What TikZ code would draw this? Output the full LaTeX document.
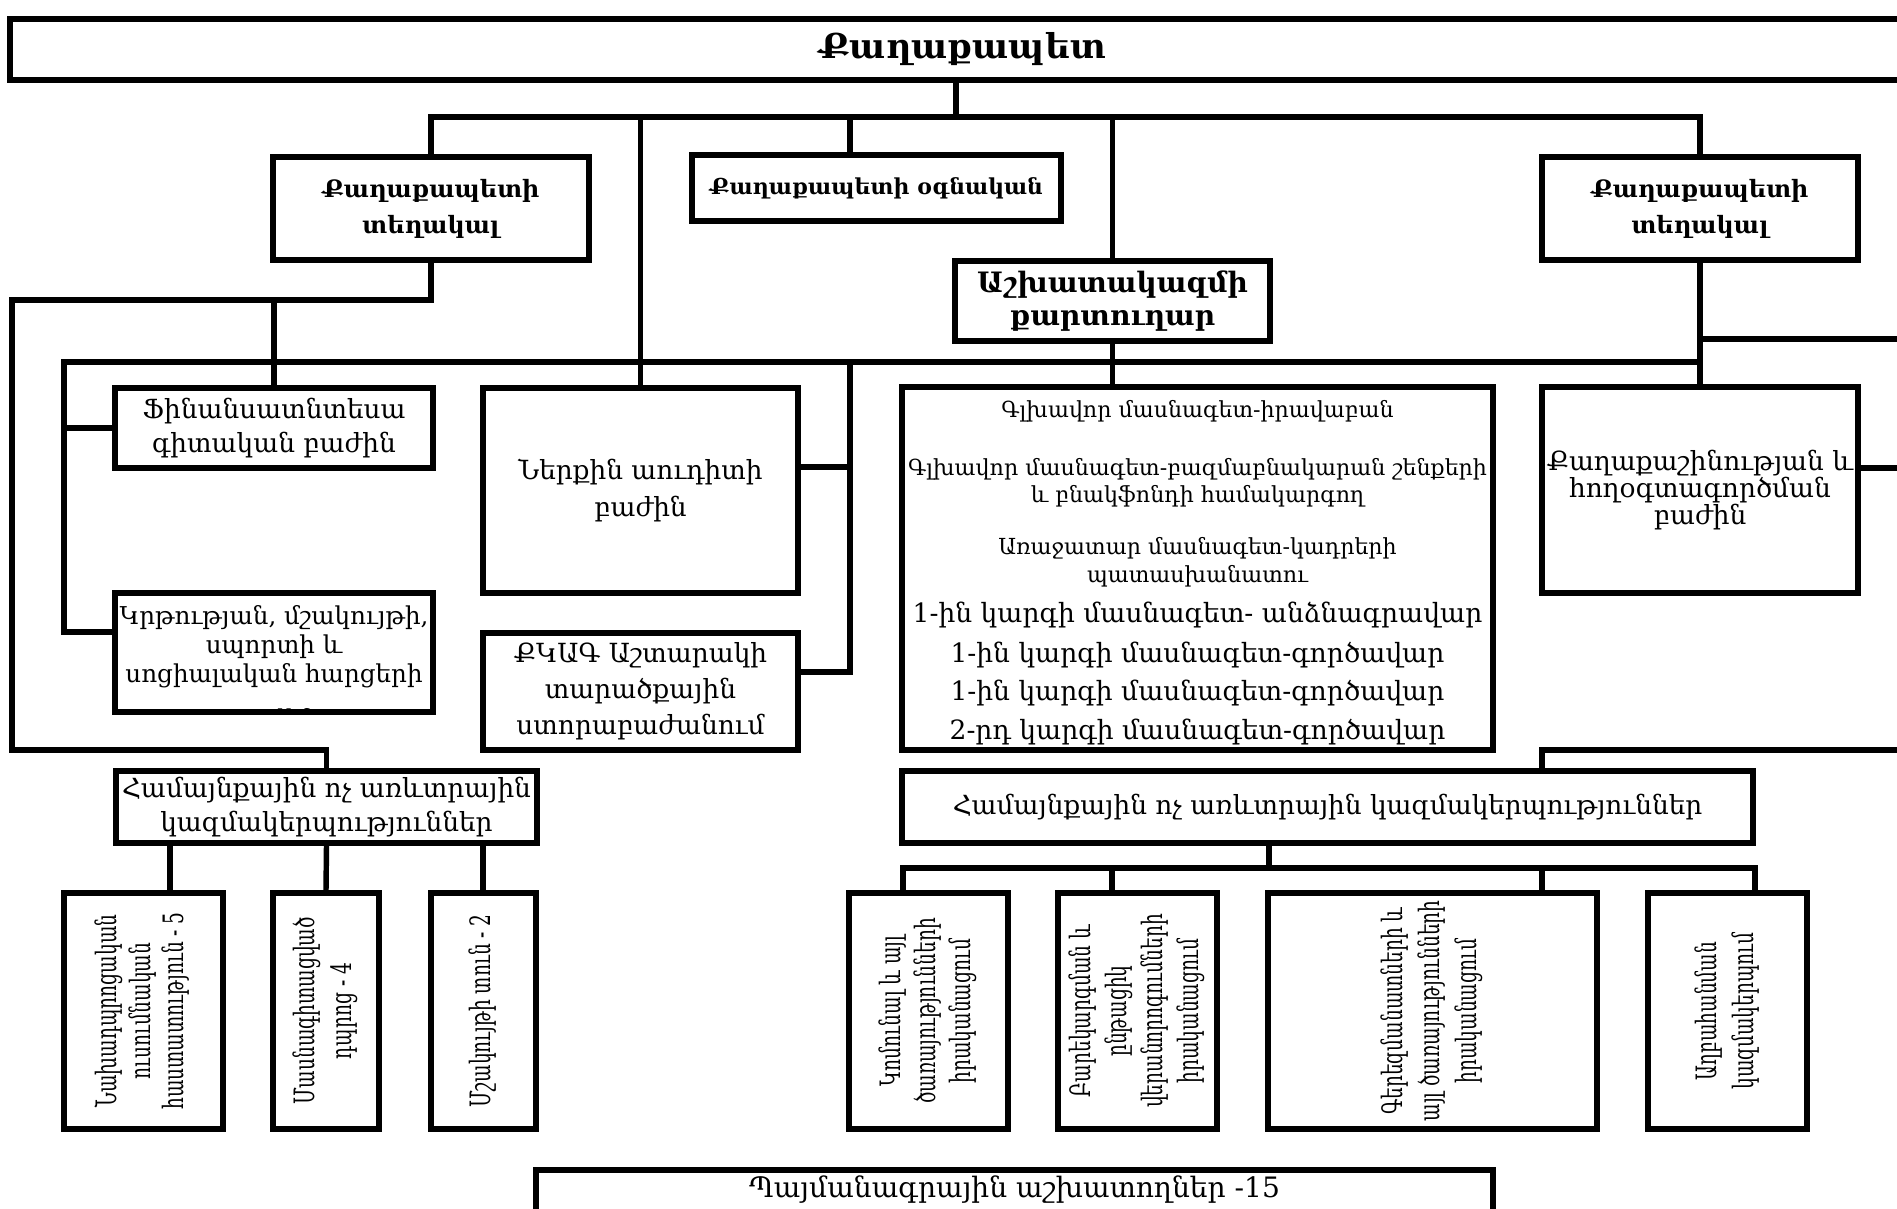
\documentclass[tikz,border=0pt]{standalone}
\usepackage{fontspec}
\usepackage{graphicx}
\setmainfont{DejaVu Serif}
\newfontfamily\vfont{DejaVu Serif}[FakeStretch=0.66]
\newlength\pxu \setlength\pxu{0.02cm}
\newcommand\fsz[2]{\fontsize{#1}{#2}\selectfont}
\newcommand\stl[3]{\rule[-#2\pxu]{0pt}{\dimexpr #1\pxu+#2\pxu\relax}#3}
\newcommand\vtext[2]{\rotatebox{90}{\vfont\fontsize{16}{#1}\selectfont\begin{tabular}{@{}c@{}}#2\end{tabular}}}
\tikzset{
  box/.style={draw, line width=3.1pt, fill=white, inner sep=0pt, align=center},
  vbox/.style={draw, line width=3.1pt, fill=white, inner sep=0pt},
  conn/.style={line width=3.1pt, line cap=rect},
  hdr/.style={font=\bfseries\fsz{13.6}{20.4}},
}
\begin{document}
\begin{tikzpicture}[x=0.02cm, y=-0.02cm]
\fill[white] (0,0) rectangle (1897,1208);
\useasboundingbox (0,0) rectangle (1897,1208);
\clip (0,0) rectangle (1897,1208);

% top level
\node[box, line width=3.4pt, minimum width=38.1cm, minimum height=1.22cm, font=\bfseries\fsz{19.5}{22}] (mayor) at (962.5,49.5) {Քաղաքապետ};

\node[box, hdr, minimum width=6.32cm, minimum height=2.06cm] (dep1) at (431,208.5) {Քաղաքապետի\\տեղակալ};
\node[box, font=\bfseries\fsz{12.5}{16}, minimum width=7.38cm, minimum height=1.32cm] (assist) at (876.5,188) {Քաղաքապետի օգնական};
\node[box, font=\bfseries\fsz{16}{18.7}, minimum width=6.3cm, minimum height=1.6cm] (sec) at (1112.5,301) {Աշխատակազմի\\քարտուղար};
\node[box, hdr, minimum width=6.32cm, minimum height=2.06cm] (dep2) at (1700,208.5) {Քաղաքապետի\\տեղակալ};

% departments
\node[box, font=\fsz{15}{19.8}, minimum width=6.36cm, minimum height=1.6cm] (fin) at (274,428) {Ֆինանսատնտեսա\\գիտական բաժին};
\node[box, minimum width=6.36cm, minimum height=2.38cm,
  path picture={\node[align=center, anchor=north, inner sep=0pt, font=\fsz{14}{16.4}] at ([yshift=-0.2cm]path picture bounding box.north) {Կրթության, մշակույթի,\\սպորտի և\\սոցիալական հարցերի\\[9pt]բաժին};}] (edu) at (274,652.5) {};
\node[box, font=\fsz{15}{21}, minimum width=6.3cm, minimum height=4.1cm] (audit) at (640.5,490.5) {Ներքին աուդիտի\\բաժին};
\node[box, font=\fsz{15}{20.4}, minimum width=6.3cm, minimum height=2.34cm] (kkag) at (640.5,691.5) {ՔԿԱԳ Աշտարակի\\տարածքային\\ստորաբաժանում};
\node[box, minimum width=11.82cm, minimum height=7.26cm, font={\lineskip=0pt\lineskiplimit=0pt\fsz{12.6}{0}}] (staff) at (1197.5,568.5) {%
\stl{29}{22}{Գլխավոր մասնագետ-իրավաբան}\\
\stl{36}{6.5}{Գլխավոր մասնագետ-բազմաբնակարան շենքերի}\\
\stl{20.5}{19}{և բնակֆոնդի համակարգող}\\
\stl{33}{7}{Առաջատար մասնագետ-կադրերի}\\
\stl{21}{13}{պատասխանատու}\\
\stl{27}{13}{\fsz{15.1}{0}1-ին կարգի մասնագետ- անձնագրավար}\\
\stl{27}{12}{\fsz{15.1}{0}1-ին կարգի մասնագետ-գործավար}\\
\stl{26}{12.5}{\fsz{15.1}{0}1-ին կարգի մասնագետ-գործավար}\\
\stl{26.5}{10}{\fsz{15.1}{0}2-րդ կարգի մասնագետ-գործավար}};
\node[box, font=\fsz{15}{15.3}, minimum width=6.32cm, minimum height=4.12cm] (urban) at (1700,490) {Քաղաքաշինության և\\հողօգտագործման\\բաժին};

% community organisations
\node[box, font=\fsz{15}{19.3}, minimum width=8.42cm, minimum height=1.44cm] (commL) at (326.5,807) {Համայնքային ոչ առևտրային\\կազմակերպություններ};
\node[box, font=\fsz{15}{18}, minimum width=17.02cm, minimum height=1.44cm] (commR) at (1327.5,807) {Համայնքային ոչ առևտրային կազմակերպություններ};

\node[vbox, minimum width=3.18cm, minimum height=4.72cm] (A) at (143.5,1011) {\vtext{19}{Նախադպրոցական\\ուսումնական\\հաստատություն - 5}};
\node[vbox, minimum width=2.12cm, minimum height=4.72cm] (B) at (326,1011) {\vtext{21}{Մասնագիտացված\\դպրոց - 4}};
\node[vbox, minimum width=2.1cm, minimum height=4.72cm] (C) at (483.5,1011) {\vtext{21}{Մշակույթի տուն - 2}};

\node[vbox, minimum width=3.18cm, minimum height=4.72cm] (R1) at (928.5,1011) {\vtext{19.8}{Կոմունալ և այլ\\ծառայությունների\\իրականացում}};
\node[vbox, minimum width=3.18cm, minimum height=4.72cm] (R2) at (1137.5,1011) {\vtext{20.4}{Բարեկարգման և\\ընթացիկ\\վերանորոգումների\\իրականացում}};
\node[vbox, minimum width=6.58cm, minimum height=4.72cm] (R3) at (1432.5,1011) {\vtext{21}{Գերեզմանատների և\\այլ ծառայությունների\\իրականացում}};
\node[vbox, minimum width=3.18cm, minimum height=4.72cm] (R4) at (1727.5,1011) {\vtext{21}{Աղբահանման\\կազմակերպում}};

\node[box, font=\fsz{16}{18}, text height=8pt, text depth=11.2pt, minimum width=19.14cm, minimum height=1.2cm] (contract) at (1014.5,1200) {Պայմանագրային աշխատողներ -15};

% connectors: top level
\coordinate (busT) at (956,117);
\coordinate (asX) at (850,117);
\draw[conn] (mayor.south -| busT) -- (busT);
\draw[conn] (dep1.north |- busT) -- (dep2.north |- busT);
\draw[conn] (dep1.north |- busT) -- (dep1.north);
\draw[conn] (audit.north |- busT) -- (audit.north);
\draw[conn] (asX) -- (assist.north -| asX);
\draw[conn] (sec.north |- busT) -- (sec.north);
\draw[conn] (dep2.north |- busT) -- (dep2.north);

% left deputy branch
\coordinate (lA) at (12,300);
\coordinate (lB) at (12,750);
\draw[conn] (dep1.south) |- (lA) -- (lB) -| (commL.north);
\draw[conn] (fin.north) -- (fin.north |- lA);

% second bus
\coordinate (b2L) at (64,362);
\coordinate (eduY) at (0,632);
\coordinate (aT) at (850,362);
\coordinate (audY) at (0,467);
\coordinate (kkY) at (0,672);
\draw[conn] (b2L) -- (b2L -| dep2.south);
\draw[conn] (dep2.south) -- (urban.north);
\draw[conn] (sec.south) -- (sec.south |- staff.north);
\draw[conn] (b2L) |- (fin.west);
\draw[conn] (b2L) |- (edu.west |- eduY);
\draw[conn] (aT) |- (kkag.east |- kkY);
\draw[conn] (audit.east |- audY) -- (aT |- audY);

% right side
\coordinate (rE1) at (1905,339);
\coordinate (rE2) at (1905,468);
\coordinate (rE3) at (1905,750);
\coordinate (rX) at (1542,0);
\draw[conn] (dep2.south |- rE1) -- (rE1);
\draw[conn] (urban.east |- rE2) -- (rE2);
\draw[conn] (rE3) -| (commR.north -| rX);

% right community bus
\coordinate (cRx) at (1269,868);
\coordinate (x1) at (903,0);
\coordinate (x2) at (1112,0);
\coordinate (x3) at (1542,0);
\coordinate (x4) at (1755,0);
\draw[conn] (commR.south -| cRx) -- (cRx);
\draw[conn] (x1 |- cRx) -- (x4 |- cRx);
\draw[conn] (x1 |- cRx) -- (R1.north -| x1);
\draw[conn] (x2 |- cRx) -- (R2.north -| x2);
\draw[conn] (x3 |- cRx) -- (R3.north -| x3);
\draw[conn] (x4 |- cRx) -- (R4.north -| x4);

% left community drops
\coordinate (lx1) at (170,0);
\coordinate (lx3) at (483,0);
\draw[conn] (commL.south -| lx1) -- (A.north -| lx1);
\draw[conn] (commL.south) -- (B.north);
\draw[conn] (commL.south -| lx3) -- (C.north -| lx3);
\end{tikzpicture}
\end{document}
